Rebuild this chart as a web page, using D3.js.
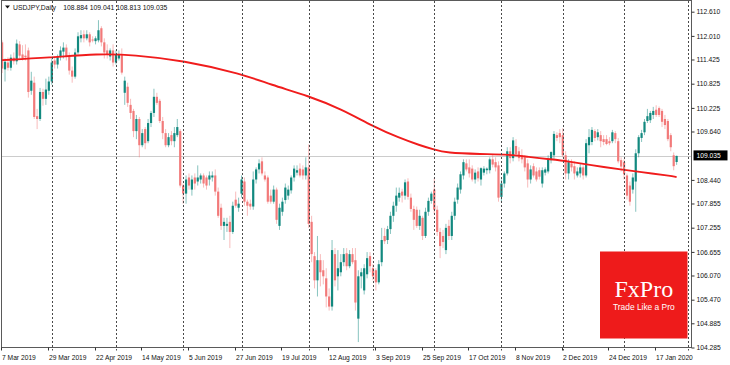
<!DOCTYPE html>
<html><head><meta charset="utf-8">
<script src="https://cdn.jsdelivr.net/npm/d3@7"></script>
<style>body{margin:0;background:#fff}svg{display:block}</style>
</head><body><svg id="c" width="730" height="365"></svg>
<script>
const dates = [
"2019-03-07","2019-03-08","2019-03-11","2019-03-12","2019-03-13","2019-03-14","2019-03-15","2019-03-18","2019-03-19","2019-03-20","2019-03-21","2019-03-22","2019-03-25","2019-03-26","2019-03-27","2019-03-28","2019-03-29",
"2019-04-01","2019-04-02","2019-04-03","2019-04-04","2019-04-05","2019-04-08","2019-04-09","2019-04-10","2019-04-11","2019-04-12","2019-04-15","2019-04-16","2019-04-17","2019-04-18","2019-04-19","2019-04-22","2019-04-23","2019-04-24","2019-04-25","2019-04-26","2019-04-29","2019-04-30",
"2019-05-01","2019-05-02","2019-05-03","2019-05-06","2019-05-07","2019-05-08","2019-05-09","2019-05-10","2019-05-13","2019-05-14","2019-05-15","2019-05-16","2019-05-17","2019-05-20","2019-05-21","2019-05-22","2019-05-23","2019-05-24","2019-05-27","2019-05-28","2019-05-29","2019-05-30","2019-05-31",
"2019-06-03","2019-06-04","2019-06-05","2019-06-06","2019-06-07","2019-06-10","2019-06-11","2019-06-12","2019-06-13","2019-06-14","2019-06-17","2019-06-18","2019-06-19","2019-06-20","2019-06-21","2019-06-24","2019-06-25","2019-06-26","2019-06-27","2019-06-28",
"2019-07-01","2019-07-02","2019-07-03","2019-07-04","2019-07-05","2019-07-08","2019-07-09","2019-07-10","2019-07-11","2019-07-12","2019-07-15","2019-07-16","2019-07-17","2019-07-18","2019-07-19","2019-07-22","2019-07-23","2019-07-24","2019-07-25","2019-07-26","2019-07-29","2019-07-30","2019-07-31",
"2019-08-01","2019-08-02","2019-08-05","2019-08-06","2019-08-07","2019-08-08","2019-08-09","2019-08-12","2019-08-13","2019-08-14","2019-08-15","2019-08-16","2019-08-19","2019-08-20","2019-08-21","2019-08-22","2019-08-23","2019-08-26","2019-08-27","2019-08-28","2019-08-29","2019-08-30",
"2019-09-02","2019-09-03","2019-09-04","2019-09-05","2019-09-06","2019-09-09","2019-09-10","2019-09-11","2019-09-12","2019-09-13","2019-09-16","2019-09-17","2019-09-18","2019-09-19","2019-09-20","2019-09-23","2019-09-24","2019-09-25","2019-09-26","2019-09-27","2019-09-30",
"2019-10-01","2019-10-02","2019-10-03","2019-10-04","2019-10-07","2019-10-08","2019-10-09","2019-10-10","2019-10-11","2019-10-14","2019-10-15","2019-10-16","2019-10-17","2019-10-18","2019-10-21","2019-10-22","2019-10-23","2019-10-24","2019-10-25","2019-10-28","2019-10-29","2019-10-30","2019-10-31",
"2019-11-01","2019-11-04","2019-11-05","2019-11-06","2019-11-07","2019-11-08","2019-11-11","2019-11-12","2019-11-13","2019-11-14","2019-11-15","2019-11-18","2019-11-19","2019-11-20","2019-11-21","2019-11-22","2019-11-25","2019-11-26","2019-11-27","2019-11-28","2019-11-29",
"2019-12-02","2019-12-03","2019-12-04","2019-12-05","2019-12-06","2019-12-09","2019-12-10","2019-12-11","2019-12-12","2019-12-13","2019-12-16","2019-12-17","2019-12-18","2019-12-19","2019-12-20","2019-12-23","2019-12-24","2019-12-26","2019-12-27","2019-12-30","2019-12-31",
"2020-01-02","2020-01-03","2020-01-06","2020-01-07","2020-01-08","2020-01-09","2020-01-10","2020-01-13","2020-01-14","2020-01-15","2020-01-16","2020-01-17","2020-01-20","2020-01-21","2020-01-22","2020-01-23","2020-01-24","2020-01-27","2020-01-28"];

const open = [111.85,111.18,111.35,111.22,111.47,111.38,111.80,111.55,111.52,111.65,110.65,110.85,110.02,109.95,110.62,110.45,110.65,
110.88,111.40,111.30,111.50,111.62,111.72,111.50,111.15,111.00,111.60,111.95,112.05,111.95,112.05,111.92,111.88,111.90,112.20,111.85,111.65,111.50,111.65,
111.35,111.45,111.55,110.60,110.75,110.30,110.15,109.65,109.95,109.30,109.70,109.40,109.85,110.10,110.50,110.40,109.90,109.60,109.30,109.55,109.40,109.55,109.65,
108.30,108.10,108.50,108.20,108.50,108.40,108.45,108.55,108.50,108.45,108.50,108.55,108.15,107.75,107.30,107.30,107.40,107.15,107.95,107.75,
108.10,108.40,107.90,107.85,107.78,108.45,108.70,108.90,108.55,108.50,108.05,107.90,108.20,107.30,107.65,107.94,108.05,108.18,108.50,108.62,108.72,108.70,108.55,
108.75,107.40,106.55,105.95,106.45,106.20,106.00,105.55,105.30,106.60,106.05,106.15,106.40,106.62,106.30,106.60,106.45,105.00,106.05,105.70,106.10,106.55,
106.25,106.20,105.90,106.40,107.05,106.95,107.22,107.55,107.80,108.00,108.15,108.05,108.40,108.00,107.72,107.70,107.30,107.50,107.05,107.65,107.92,
108.20,107.70,107.15,107.05,106.70,107.30,107.05,107.55,107.95,108.20,108.55,108.85,108.75,108.72,108.45,108.65,108.45,108.62,108.68,108.68,108.95,108.88,108.80,
108.02,108.35,108.60,109.15,108.98,109.28,109.15,109.05,109.00,108.85,108.45,108.78,108.65,108.68,108.35,108.62,108.65,108.93,109.05,109.55,109.60,
109.55,109.05,108.60,108.85,108.78,108.55,108.60,108.75,108.55,109.30,109.38,109.65,109.50,109.55,109.45,109.45,109.40,109.40,109.60,109.40,108.93,
108.88,108.55,108.30,108.20,108.40,109.10,109.48,109.62,109.90,109.92,110.05,110.18,110.22,110.15,109.95,109.90,109.55,109.05,108.884];

const high = [111.90,111.45,111.48,111.55,111.60,111.92,111.88,111.78,111.80,111.72,111.12,111.00,110.20,110.72,110.70,110.95,111.00,
111.45,111.50,111.55,111.75,111.85,111.80,111.60,111.25,111.70,112.10,112.15,112.15,112.15,112.10,112.00,112.00,112.40,112.25,111.95,111.80,111.70,111.80,
111.65,111.65,111.70,111.00,110.85,110.45,110.20,110.05,110.00,109.70,109.75,109.95,110.15,110.70,110.60,110.45,110.00,109.70,109.60,109.65,109.75,109.95,109.70,
108.35,108.55,108.60,108.55,108.60,108.80,108.60,108.60,108.55,108.65,108.65,108.70,108.25,107.85,107.50,107.50,107.55,107.90,108.15,108.00,
108.55,108.50,107.95,107.95,108.65,108.75,108.95,109.00,108.65,108.55,108.20,108.30,108.25,107.85,108.00,108.35,108.30,108.55,108.80,108.80,108.85,108.80,109.00,
109.32,107.55,106.65,107.05,106.60,106.45,106.25,105.75,106.95,106.75,106.70,106.60,106.75,106.75,106.70,106.75,106.75,106.20,106.25,106.35,106.65,106.65,
106.35,106.25,106.45,107.25,107.25,107.30,107.65,107.90,108.25,108.25,108.22,108.45,108.48,108.10,107.80,107.78,107.70,107.55,107.75,108.00,108.15,
108.48,107.80,107.25,107.20,107.35,107.45,107.65,108.00,108.35,108.65,108.95,108.95,108.95,108.80,108.70,108.75,108.75,108.78,108.75,109.00,109.05,109.00,108.90,
108.45,108.65,109.25,109.25,109.50,109.45,109.25,109.20,109.05,108.95,108.80,108.85,108.75,108.75,108.75,108.75,109.05,109.15,109.65,109.62,109.70,
109.72,109.15,108.95,108.95,108.90,108.75,108.85,108.80,109.45,109.70,109.75,109.70,109.70,109.65,109.55,109.55,109.50,109.68,109.65,109.48,109.00,
108.95,108.60,108.40,108.60,109.20,109.55,109.68,109.95,110.20,110.15,110.25,110.29,110.26,110.20,110.05,109.95,109.60,109.12,109.041];

const low = [111.09,110.88,111.15,111.15,111.30,111.30,111.45,111.40,111.40,110.48,110.55,109.95,109.70,109.90,110.28,110.30,110.55,
110.80,111.20,111.20,111.40,111.45,111.40,111.05,110.85,110.95,111.55,111.85,111.85,111.90,111.75,111.85,111.80,111.85,111.75,111.45,111.45,111.40,111.25,
111.30,111.40,111.05,110.30,110.25,109.95,109.50,109.45,109.00,109.25,109.20,109.35,109.75,110.00,110.30,109.85,109.45,109.25,109.25,109.30,109.25,109.50,108.25,
107.85,107.85,108.20,108.05,108.20,108.30,108.35,108.25,108.20,108.30,108.40,108.05,107.50,107.20,106.95,107.15,106.75,107.10,107.75,107.65,
108.00,107.80,107.55,107.70,107.70,108.35,108.60,108.55,108.40,107.85,107.85,107.85,107.35,107.20,107.55,107.85,107.95,108.10,108.40,108.55,108.50,108.45,108.45,
107.25,106.40,105.75,105.55,105.80,105.85,105.28,105.20,105.20,105.80,105.70,106.05,106.30,106.20,106.25,106.35,105.20,104.42,105.75,105.60,106.00,106.15,
105.95,105.70,105.85,106.30,106.85,106.85,107.10,107.40,107.65,107.90,107.88,107.95,107.95,107.65,107.20,107.25,107.20,106.95,107.00,107.55,107.85,
107.60,107.05,106.50,106.75,106.60,106.95,106.95,107.45,107.85,108.10,108.45,108.65,108.50,108.40,108.35,108.40,108.30,108.55,108.58,108.60,108.75,108.65,107.90,
107.90,108.25,108.55,108.85,108.90,109.00,108.90,108.85,108.65,108.25,108.35,108.50,108.40,108.45,108.25,108.55,108.60,108.85,108.95,109.40,109.35,
109.00,108.45,108.45,108.65,108.45,108.50,108.50,108.45,108.50,109.10,109.30,109.40,109.42,109.25,109.30,109.30,109.30,109.35,109.35,108.85,108.65,
108.45,107.95,107.80,108.10,107.65,109.00,109.38,109.55,109.85,109.85,109.95,110.00,110.00,109.75,109.70,109.40,109.15,108.68,108.813];

const close = [111.20,111.37,111.22,111.47,111.38,111.82,111.52,111.45,111.48,110.62,110.90,110.00,109.95,110.62,110.45,110.68,110.88,
111.35,111.30,111.50,111.65,111.72,111.50,111.15,111.00,111.60,112.00,112.03,111.95,112.05,111.85,111.90,111.95,112.15,111.85,111.60,111.55,111.65,111.35,
111.55,111.55,111.10,110.90,110.35,110.10,109.65,109.95,109.30,109.60,109.35,109.85,110.10,110.50,110.35,109.90,109.60,109.30,109.50,109.40,109.60,109.75,108.30,
108.10,108.45,108.30,108.45,108.35,108.50,108.55,108.35,108.30,108.55,108.55,108.15,107.55,107.30,107.40,107.35,107.15,107.80,107.80,107.85,
108.45,107.90,107.80,107.78,108.45,108.70,108.85,108.60,108.45,107.90,107.90,108.20,107.45,107.75,107.90,108.25,108.20,108.50,108.72,108.68,108.55,108.55,108.75,
107.35,106.60,105.95,106.45,106.15,106.05,105.55,105.30,106.70,105.95,106.25,106.40,106.60,106.30,106.60,106.40,105.40,106.05,106.15,106.25,106.50,106.30,
106.05,105.90,106.35,106.95,106.92,107.22,107.55,107.80,108.05,108.12,108.05,108.38,108.02,107.72,107.45,107.30,107.55,107.05,107.65,107.92,108.10,
107.70,107.15,106.80,106.90,107.25,107.05,107.55,107.90,108.25,108.58,108.88,108.70,108.60,108.45,108.62,108.48,108.73,108.72,108.72,108.95,108.82,108.75,108.00,
108.35,108.60,109.15,108.98,109.42,109.08,108.98,108.95,108.75,108.45,108.70,108.55,108.45,108.52,108.68,108.70,108.95,109.13,109.58,109.48,109.50,
109.05,108.60,108.88,108.75,108.60,108.65,108.75,108.55,109.35,109.50,109.68,109.48,109.62,109.40,109.38,109.33,109.35,109.62,109.45,108.90,108.77,
108.58,108.05,107.90,108.50,109.10,109.50,109.60,109.88,110.02,110.10,110.15,110.05,110.05,109.88,109.80,109.45,109.25,108.78,109.035];

// bars that follow on the time axis after the last candle (chart shift area)
const futureDates = ["2020-01-29","2020-01-30","2020-01-31","2020-02-03"];

// 200-day moving average at these bars
const maDates = ["2019-03-07","2019-03-29","2019-04-23","2019-05-09","2019-06-03","2019-07-01","2019-07-15","2019-08-01","2019-08-16","2019-09-02","2019-09-13","2019-09-24","2019-10-01","2019-10-07","2019-10-23","2019-11-06","2019-11-14","2019-11-26","2019-12-04","2019-12-13","2020-01-02","2020-01-09","2020-01-24","2020-01-28"];
const maValues = [111.41,111.47,111.57,111.54,111.40,111.07,110.80,110.52,110.20,109.77,109.48,109.30,109.19,109.11,109.08,109.07,109.01,108.95,108.90,108.81,108.69,108.64,108.54,108.51];

const yTicks = [112.610,112.010,111.425,110.825,110.225,109.640,108.440,107.855,107.255,106.655,106.070,105.470,104.885,104.285];
const xTickDates = ["2019-03-07","2019-03-29","2019-04-22","2019-05-14","2019-06-05","2019-06-27","2019-07-19","2019-08-12","2019-09-03","2019-09-25","2019-10-17","2019-11-08","2019-12-02","2019-12-24","2020-01-17"];
const xTickLabels = ["7 Mar 2019","29 Mar 2019","22 Apr 2019","14 May 2019","5 Jun 2019","27 Jun 2019","19 Jul 2019","12 Aug 2019","3 Sep 2019","25 Sep 2019","17 Oct 2019","8 Nov 2019","2 Dec 2019","24 Dec 2019","17 Jan 2020"];
const separatorDates = ["2019-04-01","2019-05-01","2019-06-03","2019-07-01","2019-08-01","2019-09-02","2019-10-01","2019-11-01","2019-12-02","2020-01-02","2020-02-03"];
const symbolTitle = "USDJPY,Daily";
const headerValues = ["108.884","109.041","108.813","109.035"];

const svg = d3.select("#c");
const L = 1.5, R = 691.5, T = 0.5, B = 347.5;
const allDates = dates.concat(futureDates);
const idx = new Map(allDates.map((d, i) => [d, i]));
const x = d3.scaleLinear().domain([0, allDates.length - 1]).range([2.1, 2.1 + 2.92 * (allDates.length - 1)]);
const y = d3.scaleLinear().domain([104.285, 112.610]).range([347.5, 11.7]);

svg.append("rect").attr("width", 730).attr("height", 365).attr("fill", "#fff");
svg.append("clipPath").attr("id", "pc").append("rect")
  .attr("x", L).attr("y", T).attr("width", R - L).attr("height", B - T);
const plot = svg.append("g").attr("clip-path", "url(#pc)");

// bid line
const last = close.length - 1;
plot.append("line").attr("x1", L).attr("x2", R)
  .attr("y1", Math.round(y(close[last])) + 0.5).attr("y2", Math.round(y(close[last])) + 0.5)
  .attr("stroke", "#cccccc").attr("stroke-width", 1);

// period separators (extend slightly below the frame)
svg.selectAll("line.sep").data(separatorDates).join("line").attr("class", "sep")
  .attr("x1", d => Math.round(x(idx.get(d))) + 0.5).attr("x2", d => Math.round(x(idx.get(d))) + 0.5)
  .attr("y1", 1).attr("y2", B + 3)
  .attr("stroke", "#4a4a4a").attr("stroke-width", 1).attr("stroke-dasharray", "2,2");

// candles
const bull = "#12897f", bear = "#f27a7a";
const cg = plot.append("g");
const bars = d3.range(dates.length);
cg.selectAll("line.w").data(bars).join("line").attr("class", "w")
  .attr("x1", i => x(i)).attr("x2", i => x(i))
  .attr("y1", i => y(high[i])).attr("y2", i => y(low[i]))
  .attr("stroke", i => close[i] >= open[i] ? bull : bear)
  .attr("stroke-opacity", 0.5).attr("stroke-width", 1);
cg.selectAll("rect.b").data(bars).join("rect").attr("class", "b")
  .attr("x", i => x(i) - 1.1).attr("width", 2.2)
  .attr("y", i => y(Math.max(open[i], close[i])))
  .attr("height", i => Math.max(1, Math.abs(y(open[i]) - y(close[i]))))
  .attr("fill", i => close[i] >= open[i] ? bull : bear);

// moving average
const ma = maDates.map((d, k) => [idx.get(d), maValues[k]]);
plot.append("path").datum(ma)
  .attr("d", d3.line().x(d => x(d[0])).y(d => y(d[1])).curve(d3.curveBasis))
  .attr("fill", "none").attr("stroke", "#f01c1c").attr("stroke-width", 1.9);

// frame
svg.append("rect").attr("x", L).attr("y", T).attr("width", R - L).attr("height", B - T)
  .attr("fill", "none").attr("stroke", "#5a5a5a").attr("stroke-width", 1);

const font = "'Liberation Sans', Arial, sans-serif";

// y axis
const ya = svg.append("g").attr("transform", `translate(${R},0)`)
  .call(d3.axisRight(y).tickValues(yTicks).tickSize(3).tickPadding(2).tickFormat(d3.format(".3f")));
ya.select(".domain").remove();
ya.selectAll("line").attr("stroke", "#333");
ya.selectAll("text").attr("font-family", font).attr("font-size", 6.7).attr("fill", "#111").attr("dy", "0.34em");

// current price label
const yc = y(close[last]);
svg.append("rect").attr("x", 693.5).attr("y", yc - 5.5).attr("width", 34).attr("height", 10).attr("fill", "#000");
svg.append("text").attr("x", 696.5).attr("y", yc + 2.3).attr("font-family", font).attr("font-size", 6.7)
  .attr("fill", "#fff").text(d3.format(".3f")(close[last]));

// x axis
const xa = svg.append("g").attr("transform", `translate(0,${B})`)
  .call(d3.axisBottom(x).tickValues(xTickDates.map(d => idx.get(d))).tickSize(3).tickPadding(3)
    .tickFormat((d, k) => xTickLabels[k]));
xa.select(".domain").remove();
xa.selectAll(".tick").attr("transform", d => `translate(${Math.round(x(d)) - 0.5},0)`);
xa.selectAll("line").attr("stroke", "#333");
xa.selectAll("text").attr("font-family", font).attr("font-size", 6.7).attr("fill", "#111")
  .attr("text-anchor", "start").attr("x", 0.5).attr("dy", "0.9em");

// header
svg.append("path").attr("d", "M5,5.5 L10,5.5 L7.5,8.5 Z").attr("fill", "#111");
const ht = svg.append("text").attr("y", 10).attr("font-family", font).attr("font-size", 6.8).attr("fill", "#111");
ht.append("tspan").attr("x", 13).text(symbolTitle);
ht.append("tspan").attr("x", 63.3).text(headerValues.join(" "));

// FxPro logo
const lg = svg.append("g");
lg.append("rect").attr("x", 600).attr("y", 251.5).attr("width", 87.5).attr("height", 87).attr("fill", "#ee1b1b");
lg.append("text").attr("x", 643.8).attr("y", 297).attr("text-anchor", "middle")
  .attr("font-family", "'Liberation Serif', 'Times New Roman', serif").attr("font-size", 24).attr("fill", "#fff").text("FxPro");
lg.append("text").attr("x", 643.8).attr("y", 309.5).attr("text-anchor", "middle")
  .attr("font-family", font).attr("font-size", 8.4).attr("fill", "#fff").text("Trade Like a Pro");
</script></body></html>
